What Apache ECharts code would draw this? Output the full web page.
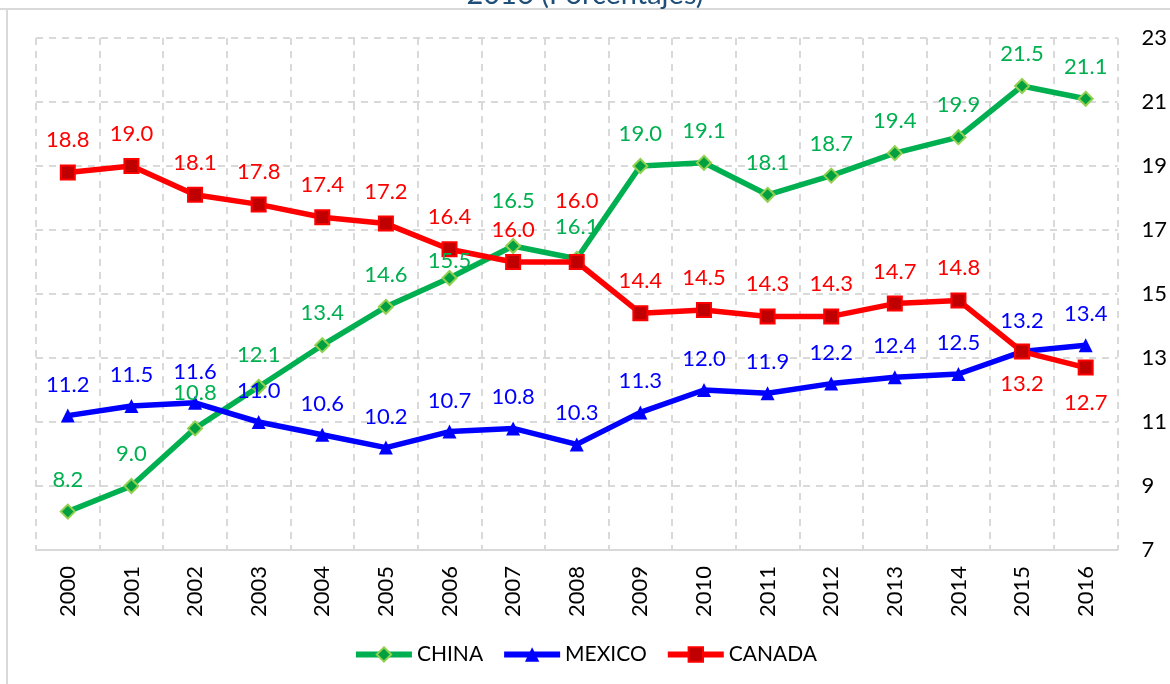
<!DOCTYPE html>
<html>
<head>
<meta charset="utf-8">
<script src="https://cdn.jsdelivr.net/npm/echarts@6/dist/echarts.min.js"></script>
<style>
  html, body { margin: 0; padding: 0; background: #fff; }
  #chart { width: 1170px; height: 684px; }
</style>
</head>
<body>
<div id="chart"></div>
<script>
var years = ["2000", "2001", "2002", "2003", "2004", "2005", "2006", "2007", "2008",
  "2009", "2010", "2011", "2012", "2013", "2014", "2015", "2016"];
var china = [8.2, 9.0, 10.8, 12.1, 13.4, 14.6, 15.5, 16.5, 16.1, 19.0, 19.1, 18.1, 18.7, 19.4, 19.9, 21.5, 21.1];
var mexico = [11.2, 11.5, 11.6, 11.0, 10.6, 10.2, 10.7, 10.8, 10.3, 11.3, 12.0, 11.9, 12.2, 12.4, 12.5, 13.2, 13.4];
var canada = [18.8, 19.0, 18.1, 17.8, 17.4, 17.2, 16.4, 16.0, 16.0, 14.4, 14.5, 14.3, 14.3, 14.7, 14.8, 13.2, 12.7];

var FONT = "Lato";
var FS = 22;

// etiquetas movidas a mano (como en el original)
function chinaData() {
  return china.map(function (v, i) {
    var item = { value: v };
    if (i == 2) item.label = { offset: [0, -3] };
    if (i == 6) item.label = { offset: [0, 15] };
    if (i == 7) item.label = { offset: [0, -13] };
    return item;
  });
}
function canadaData() {
  return canada.map(function (v, i) {
    var item = { value: v };
    if (i == 8) item.label = { offset: [0, -29] };
    if (i == 15) item.label = { position: "bottom", distance: 13 };
    if (i == 16) item.label = { position: "bottom", distance: 16 };
    return item;
  });
}

function fmt(p) {
  return p.value.toFixed(1);
}

var myChart = echarts.init(document.getElementById("chart"));
var option = {
  animation: false,
  textStyle: { fontFamily: FONT },
  title: {
    text: "2016 (Porcentajes)",
    left: "center",
    top: -25,
    textStyle: { color: "#1F4E79", fontSize: 29, fontWeight: "normal", fontFamily: FONT },
  },
  graphic: [
    { type: "line", shape: { x1: 0, y1: 9, x2: 1170, y2: 9 }, style: { stroke: "#D9D9D9", lineWidth: 2 } },
    { type: "line", shape: { x1: 7, y1: 9, x2: 7, y2: 684 }, style: { stroke: "#D9D9D9", lineWidth: 2 } },
  ],
  legend: {
    bottom: 14,
    left: "center",
    itemWidth: 56,
    itemHeight: 18,
    itemGap: 18,
    lineStyle: { width: 6 },
    textStyle: { fontSize: 21, color: "#000", fontFamily: FONT },
    data: ["CHINA", "MEXICO", "CANADA"],
  },
  grid: { left: 36, right: 49, top: 38, bottom: 134 },
  xAxis: {
    type: "category",
    data: years,
    boundaryGap: true,
    axisLine: { lineStyle: { color: "#D9D9D9", width: 2 } },
    axisTick: { show: false },
    axisLabel: { rotate: 90, fontSize: FS, color: "#000", margin: 16, interval: 0 },
    splitLine: { show: true, lineStyle: { color: "#D9D9D9", width: 2, type: [7, 6] } },
  },
  yAxis: {
    type: "value",
    position: "right",
    min: 7,
    max: 23,
    interval: 2,
    axisLine: { show: false },
    axisTick: { show: false },
    axisLabel: { fontSize: FS, color: "#000", margin: 24, align: "left" },
    splitLine: { lineStyle: { color: "#D9D9D9", width: 2, type: [7, 6] } },
  },
  series: [
    {
      name: "CHINA",
      type: "line",
      data: chinaData(),
      symbol: "diamond",
      symbolSize: 14,
      color: "#00B050",
      itemStyle: { color: "#00A040", borderColor: "#92D050", borderWidth: 2 },
      lineStyle: { color: "#00B050", width: 5.5 },
      label: { show: true, position: "top", distance: 13, fontSize: FS, color: "#00B050", formatter: fmt },
    },
    {
      name: "MEXICO",
      type: "line",
      data: mexico,
      symbol: "triangle",
      symbolSize: 14,
      color: "#0000FF",
      itemStyle: { color: "#0000FF" },
      lineStyle: { color: "#0000FF", width: 5.5 },
      label: { show: true, position: "top", distance: 13, fontSize: FS, color: "#0000FF", formatter: fmt },
    },
    {
      name: "CANADA",
      type: "line",
      data: canadaData(),
      symbol: "rect",
      symbolSize: 14,
      color: "#FF0000",
      itemStyle: { color: "#C00000", borderColor: "#FF0000", borderWidth: 2 },
      lineStyle: { color: "#FF0000", width: 5.5 },
      label: { show: true, position: "top", distance: 13, fontSize: FS, color: "#FF0000", formatter: fmt },
    },
  ],
};
myChart.setOption(option);
window.onresize = function () {
  myChart.resize();
};
</script>
</body>
</html>
